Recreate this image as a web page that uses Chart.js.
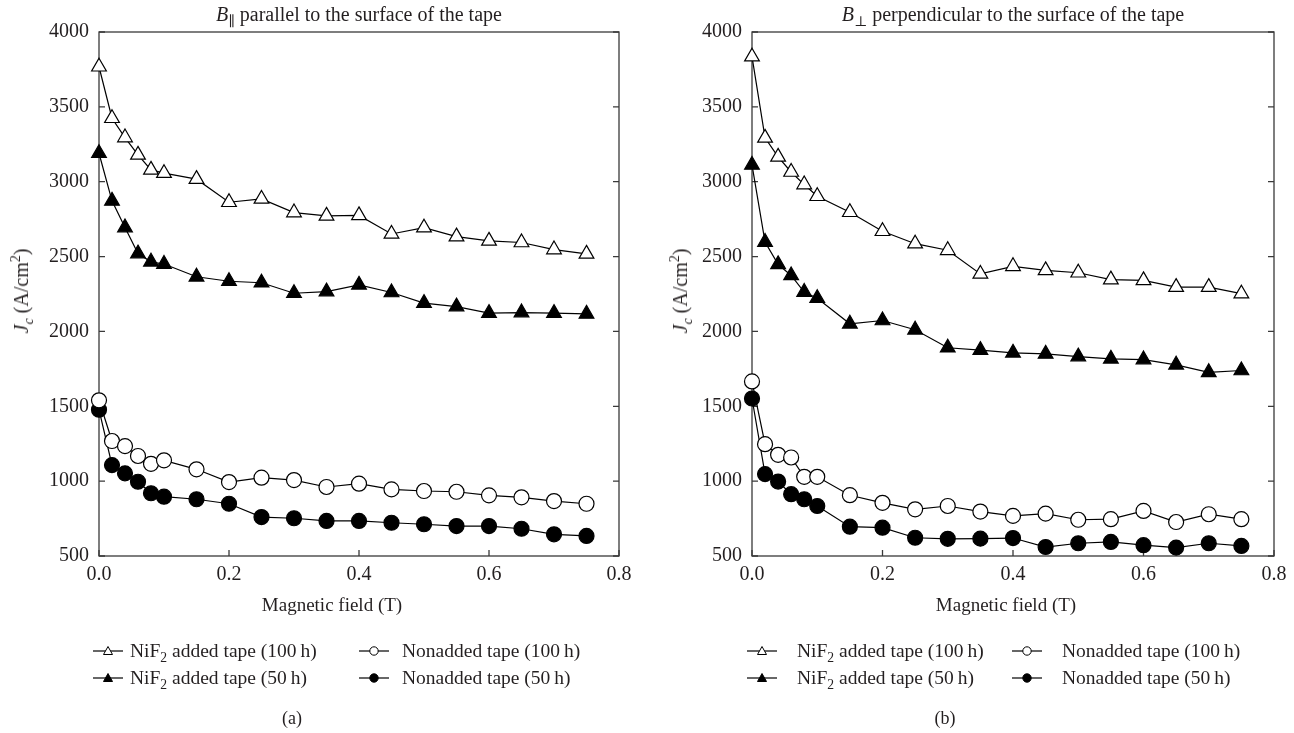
<!DOCTYPE html>
<html>
<head>
<meta charset="utf-8">
<script src="https://cdn.jsdelivr.net/npm/chart.js@4.4.1/dist/chart.umd.min.js"></script>
<style>
body { margin: 0; background: #fff; font-family: 'Liberation Serif', 'DejaVu Serif', serif; color: #231f20; }
#fig { position: relative; width: 1294px; height: 733px; overflow: hidden; }
.panel { position: absolute; top: 0; width: 647px; height: 733px; }
.panel canvas { position: absolute; left: 0; top: 0; }
.lbl { position: absolute; white-space: nowrap; font-size: 19.5px; line-height: 1; }
.ttl { font-size: 20px; top: 4px; transform: translateX(-50%); }
.xt { font-size: 19px; top: 604px; transform: translate(-50%, -50%); }
.yt { font-size: 20px; top: 291px; transform: translate(-50%, -50%) rotate(-90deg); }
.cap { font-size: 18px; top: 718px; transform: translate(-50%, -50%); }
.icon { position: absolute; transform: translateY(-50%); }
.legtxt { transform: translateY(-50%); }
sub, sup { font-size: 70%; line-height: 0; }
</style>
</head>
<body>
<div id="fig">
  <div class="panel" id="panelA" style="left:0px">
    <canvas id="chartA" width="647" height="733"></canvas>
  </div>
  <div class="panel" id="panelB" style="left:647px">
    <canvas id="chartB" width="647" height="733"></canvas>
  </div>
</div>
<script>
// magnetic field values (T), shared by every series
const fieldT = [0, 0.02, 0.04, 0.06, 0.08, 0.1, 0.15, 0.2, 0.25, 0.3, 0.35, 0.4, 0.45, 0.5, 0.55, 0.6, 0.65, 0.7, 0.75];

// (a) B parallel to the tape surface, Jc in A/cm2
const parNiF2_100h = [3768, 3424, 3295, 3179, 3079, 3057, 3017, 2863, 2885, 2794, 2772, 2775, 2651, 2693, 2633, 2605, 2594, 2547, 2518];
const parNiF2_50h  = [3190, 2872, 2694, 2520, 2465, 2450, 2365, 2335, 2325, 2255, 2266, 2311, 2260, 2189, 2166, 2122, 2126, 2122, 2117];
const parNon_100h  = [1540, 1268, 1234, 1168, 1116, 1139, 1079, 994, 1023, 1007, 961, 983, 945, 934, 929, 905, 892, 867, 849];
const parNon_50h   = [1477, 1107, 1052, 996, 919, 896, 879, 849, 760, 752, 734, 734, 722, 712, 700, 700, 682, 645, 634];

// (b) B perpendicular to the tape surface
const perNiF2_100h = [3835, 3293, 3166, 3065, 2981, 2903, 2796, 2669, 2586, 2542, 2384, 2435, 2408, 2392, 2346, 2341, 2296, 2296, 2252];
const perNiF2_50h  = [3112, 2597, 2448, 2374, 2263, 2222, 2051, 2073, 2011, 1891, 1875, 1857, 1850, 1832, 1817, 1812, 1777, 1727, 1739];
const perNon_100h  = [1666, 1247, 1176, 1158, 1029, 1029, 906, 855, 812, 834, 797, 768, 783, 742, 746, 801, 727, 779, 746];
const perNon_50h   = [1552, 1047, 997, 913, 879, 834, 696, 689, 622, 615, 616, 620, 560, 585, 594, 572, 556, 585, 567];

const xTicks = [0, 0.2, 0.4, 0.6, 0.8];
const xTickLabels = ['0.0', '0.2', '0.4', '0.6', '0.8'];
const yTicks = [500, 1000, 1500, 2000, 2500, 3000, 3500, 4000];
const yTickLabels = ['500', '1000', '1500', '2000', '2500', '3000', '3500', '4000'];

const seriesNames = ['NiF<sub>2</sub> added tape (100\u2009h)', 'NiF<sub>2</sub> added tape (50\u2009h)',
                     'Nonadded tape (100\u2009h)', 'Nonadded tape (50\u2009h)'];
const seriesShape = ['triangle', 'triangle', 'circle', 'circle'];
const seriesFilled = [false, true, false, true];

const INK = '#231f20';
const FONT = "'Liberation Serif', 'DejaVu Serif', serif";

// box round the plot with short inward ticks (left, right and bottom)
const framePlugin = {
    id: 'frame',
    beforeDatasetsDraw(chart) {
        const { ctx, chartArea: a, scales: { x, y } } = chart;
        ctx.save();
        ctx.strokeStyle = '#3a3a3a';
        ctx.lineWidth = 1.3;
        ctx.strokeRect(a.left, a.top, a.right - a.left, a.bottom - a.top);
        ctx.beginPath();
        y.ticks.forEach(t => {
            const py = y.getPixelForValue(t.value);
            ctx.moveTo(a.left, py); ctx.lineTo(a.left + 6, py);
            ctx.moveTo(a.right, py); ctx.lineTo(a.right - 6, py);
        });
        x.ticks.forEach(t => {
            const px = x.getPixelForValue(t.value);
            ctx.moveTo(px, a.bottom); ctx.lineTo(px, a.bottom - 6);
        });
        ctx.stroke();
        ctx.restore();
    }
};

function makeDataset(values, i) {
    return {
        label: seriesNames[i].replace(/<\/?sub>/g, ''),
        data: values.map((v, k) => ({ x: fieldT[k], y: v })),
        borderColor: '#000',
        borderWidth: 1.2,
        backgroundColor: seriesFilled[i] ? '#000' : '#fff',
        pointStyle: seriesShape[i],
        pointRadius: seriesShape[i] === 'triangle' ? 8.5 : 7.5,
        pointBorderWidth: 1.2,
        pointBackgroundColor: seriesFilled[i] ? '#000' : '#fff',
        pointBorderColor: '#000',
        tension: 0,
        clip: false,
    };
}

function makeChart(canvas, series, yAxisWidth, rightPad) {
    let datasets = series.map((vals, i) => makeDataset(vals, i));
    return new Chart(canvas, {
        type: 'line',
        data: { datasets: datasets },
        options: {
            responsive: false,
            animation: false,
            events: [],
            layout: { padding: { left: 0, top: 32, right: rightPad, bottom: 0 } },
            scales: {
                x: {
                    type: 'linear',
                    min: 0, max: 0.8,
                    grid: { display: false, drawTicks: false },
                    border: { display: false },
                    afterBuildTicks: s => { s.ticks = xTicks.map(v => ({ value: v })); },
                    afterFit: s => { s.height = 177; },
                    ticks: {
                        padding: 7,
                        color: INK,
                        font: { family: FONT, size: 20 },
                        callback: (v, i) => xTickLabels[i],
                    },
                },
                y: {
                    min: 500, max: 4000,
                    grid: { display: false, drawTicks: false },
                    border: { display: false },
                    afterBuildTicks: s => { s.ticks = yTicks.map(v => ({ value: v })); },
                    afterFit: s => { s.width = yAxisWidth; },
                    ticks: {
                        padding: 10,
                        color: INK,
                        font: { family: FONT, size: 20 },
                        callback: (v, i) => yTickLabels[i],
                    },
                },
            },
            plugins: { legend: { display: false }, tooltip: { enabled: false } },
        },
        plugins: [framePlugin],
    });
}

function legendIcon(i) {
    const fill = seriesFilled[i] ? '#000' : '#fff';
    const mark = seriesShape[i] === 'triangle'
        ? `<polygon points="15,2.5 19.5,10.5 10.5,10.5" fill="${fill}" stroke="#000" stroke-width="1"/>`
        : `<circle cx="15" cy="7" r="4.2" fill="${fill}" stroke="#000" stroke-width="1"/>`;
    return `<svg width="30" height="14"><line x1="0" y1="7" x2="30" y2="7" stroke="#000" stroke-width="1.2"/>${mark}</svg>`;
}

function addText(panel, cls, html, left, top) {
    let el = document.createElement('div');
    el.className = 'lbl ' + cls;
    el.innerHTML = html;
    el.style.left = left + 'px';
    if (top !== undefined) el.style.top = top + 'px';
    panel.append(el);
    return el;
}

function decoratePanel(panel, cfg) {
    addText(panel, 'ttl', cfg.title, cfg.titleX);
    addText(panel, 'xt', 'Magnetic field (T)', cfg.xTitleX);
    addText(panel, 'yt', '<i>J<sub>c</sub></i> (A/cm<sup>2</sup>)', cfg.yTitleX);
    addText(panel, 'cap', cfg.caption, cfg.captionX);
    // legend: two columns, NiF2 tapes on the left, nonadded on the right
    const rows = [651, 678];
    [0, 1, 2, 3].forEach(i => {
        const col = i < 2 ? 0 : 1;
        const row = i % 2;
        let icon = document.createElement('div');
        icon.className = 'icon';
        icon.innerHTML = legendIcon(i);
        icon.style.left = cfg.iconX[col] + 'px';
        icon.style.top = (rows[row] + 2) + 'px';
        panel.append(icon);
        addText(panel, 'legtxt', seriesNames[i], cfg.textX[col], rows[row]);
    });
}

const chartA = makeChart(document.getElementById('chartA'), [parNiF2_100h, parNiF2_50h, parNon_100h, parNon_50h], 99, 28);
const chartB = makeChart(document.getElementById('chartB'), [perNiF2_100h, perNiF2_50h, perNon_100h, perNon_50h], 105, 20);

decoratePanel(document.getElementById('panelA'), {
    title: '<i>B</i><sub>\u2225</sub> parallel to the surface of the tape', titleX: 359,
    xTitleX: 332, yTitleX: 21, caption: '(a)', captionX: 292,
    iconX: [93, 359], textX: [130, 402],
});
decoratePanel(document.getElementById('panelB'), {
    title: '<i>B</i><sub>\u22a5</sub> perpendicular to the surface of the tape', titleX: 366,
    xTitleX: 359, yTitleX: 33, caption: '(b)', captionX: 298,
    iconX: [100, 365], textX: [150, 415],
});
</script>
</body>
</html>
